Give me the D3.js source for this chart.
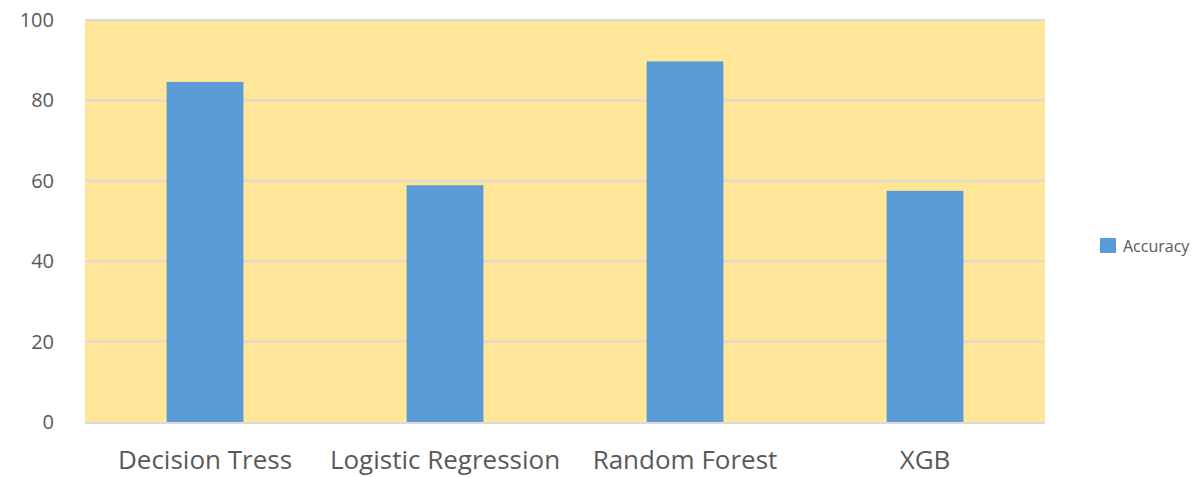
<!DOCTYPE html>
<html>
<head>
<meta charset="utf-8">
<script src="https://cdn.jsdelivr.net/npm/d3@7"></script>
<style>
  html, body { margin: 0; padding: 0; background: #ffffff; }
  svg { display: block; font-family: "Open Sans", "Liberation Sans", sans-serif; }
</style>
</head>
<body>
<svg id="chart" width="1204" height="477"></svg>
<script>
// Model names and their accuracy scores (%)
const categories = ["Decision Tress", "Logistic Regression", "Random Forest", "XGB"];
const accuracy = [84.6, 58.9, 89.7, 57.5];
const yTicks = [0, 20, 40, 60, 80, 100];
const seriesName = "Accuracy";

const svg = d3.select("#chart");
const plot = { left: 85, right: 1045, top: 20, bottom: 422 };

const x = d3.scaleBand()
  .domain(categories)
  .range([plot.left, plot.right])
  .paddingInner(0.68)
  .paddingOuter(0.34);

const y = d3.scaleLinear()
  .domain([0, 100])
  .range([plot.bottom, plot.top]);

// plot background
svg.append("rect")
  .attr("x", plot.left)
  .attr("y", plot.top)
  .attr("width", plot.right - plot.left)
  .attr("height", plot.bottom - plot.top)
  .attr("fill", "#ffe699");

// horizontal gridlines
svg.append("g")
  .selectAll("line")
  .data(yTicks.filter(d => d > 0))
  .join("line")
  .attr("x1", plot.left)
  .attr("x2", plot.right)
  .attr("y1", d => y(d))
  .attr("y2", d => y(d))
  .attr("stroke", "#d9d9d9")
  .attr("stroke-width", 2);

// bars
svg.append("g")
  .selectAll("rect")
  .data(categories.map((c, i) => ({ c, v: accuracy[i] })))
  .join("rect")
  .attr("x", d => x(d.c))
  .attr("width", x.bandwidth())
  .attr("y", d => y(d.v))
  .attr("height", d => y(0) - y(d.v))
  .attr("fill", "#5b9bd5");

// baseline
svg.append("line")
  .attr("x1", plot.left)
  .attr("x2", plot.right)
  .attr("y1", y(0) + 1)
  .attr("y2", y(0) + 1)
  .attr("stroke", "#d9d9d9")
  .attr("stroke-width", 2);

// y axis labels
const yAxis = d3.axisLeft(y).tickValues(yTicks).tickSize(0).tickPadding(0);
const gy = svg.append("g")
  .attr("transform", "translate(54,0)")
  .call(yAxis);
gy.select(".domain").remove();
gy.selectAll("text")
  .attr("fill", "#595959")
  .attr("font-size", 20)
  .attr("font-family", "'Open Sans', 'Liberation Sans', sans-serif");

// x axis labels
const xAxis = d3.axisBottom(x).tickSize(0).tickPadding(0);
const gx = svg.append("g")
  .attr("transform", "translate(0,451)")
  .call(xAxis);
gx.select(".domain").remove();
gx.selectAll("text")
  .attr("fill", "#595959")
  .attr("font-size", 26)
  .attr("font-family", "'Open Sans', 'Liberation Sans', sans-serif");

// legend
const legend = svg.append("g").attr("transform", "translate(1100,246)");
legend.append("rect")
  .attr("x", 0)
  .attr("y", -8)
  .attr("width", 16)
  .attr("height", 15)
  .attr("fill", "#5b9bd5");
legend.append("text")
  .attr("x", 23)
  .attr("y", 0)
  .attr("dy", "0.35em")
  .attr("fill", "#595959")
  .attr("font-size", 16)
  .attr("letter-spacing", 0)
  .text(seriesName);
</script>
</body>
</html>
